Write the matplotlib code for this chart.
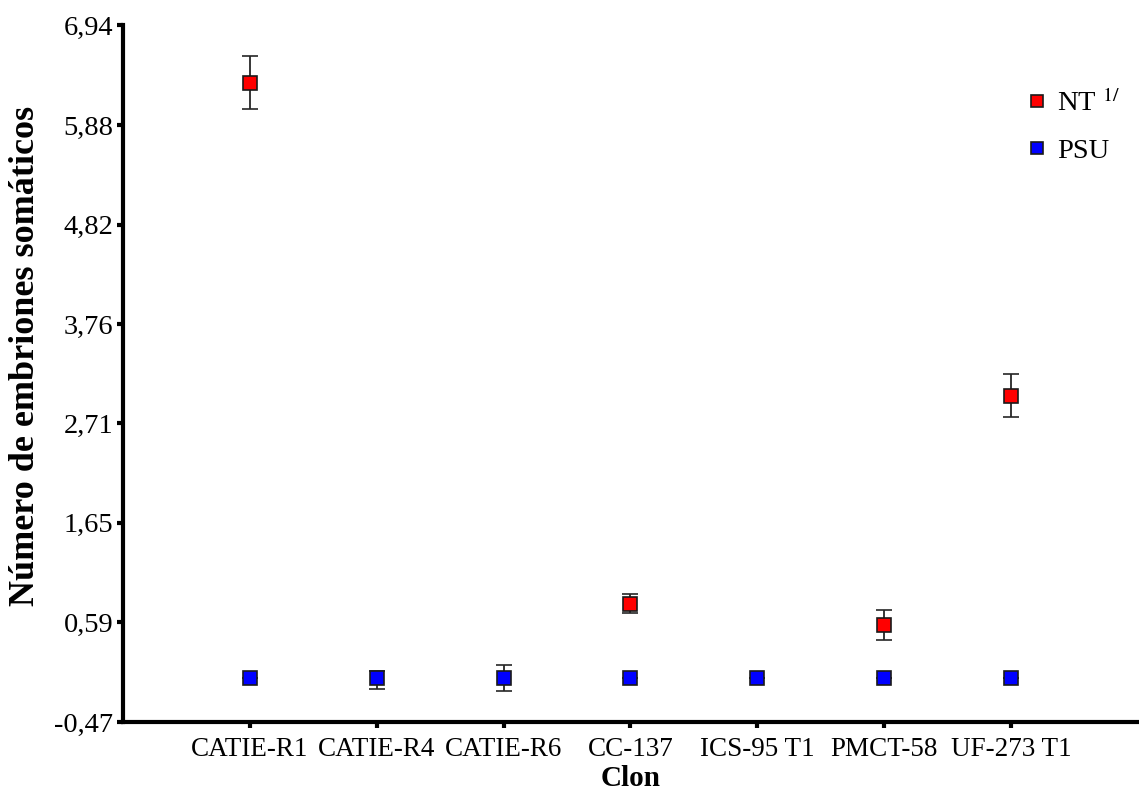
import numpy as np
import matplotlib.pyplot as plt
from matplotlib.lines import Line2D

# clones and mean number of somatic embryos (with standard errors)
clones = ['CATIE-R1', 'CATIE-R4', 'CATIE-R6', 'CC-137', 'ICS-95 T1', 'PMCT-58', 'UF-273 T1']
nt_mean = [6.33, None, None, 0.79, None, 0.56, 3.00]
nt_err = [0.28, None, None, 0.10, None, 0.16, 0.23]
psu_mean = [0.0, 0.0, 0.0, 0.0, 0.0, 0.0, 0.0]
psu_err_low = [0.0, 0.12, 0.14, 0.0, 0.0, 0.0, 0.0]
psu_err_high = [0.0, 0.07, 0.14, 0.0, 0.0, 0.0, 0.0]
yticks = [-0.47, 0.59, 1.65, 2.71, 3.76, 4.82, 5.88, 6.94]
ytick_labels = ['-0,47', '0,59', '1,65', '2,71', '3,76', '4,82', '5,88', '6,94']

plt.rcParams['font.family'] = ['Liberation Serif', 'DejaVu Serif']
plt.rcParams['mathtext.fontset'] = 'stix'

fig = plt.figure(figsize=(11.39, 7.93), dpi=100)
ax = fig.add_axes([0.108, 0.0895, 0.891, 0.8785])

x = np.arange(len(clones))
nt_idx = [i for i, v in enumerate(nt_mean) if v is not None]

ax.errorbar(x[nt_idx], [nt_mean[i] for i in nt_idx], yerr=[nt_err[i] for i in nt_idx],
            fmt='s', color='#ff0000', markersize=10, markeredgecolor='#1a1a1a',
            markeredgewidth=1.2, ecolor='#262626', elinewidth=1.3, capsize=5.5,
            capthick=1.3, zorder=3)
ax.errorbar(x, psu_mean, yerr=[psu_err_low, psu_err_high],
            fmt='s', color='#0000ff', markersize=10, markeredgecolor='#1a1a1a',
            markeredgewidth=1.2, ecolor='#262626', elinewidth=1.3, capsize=5.5,
            capthick=1.3, zorder=3)

ax.set_xlim(-1, 7)
ax.set_ylim(-0.47, 6.94)
ax.set_xticks(x)
ax.set_xticklabels(clones)
ax.set_yticks(yticks)
ax.set_yticklabels(ytick_labels)

for side in ['top', 'right']:
    ax.spines[side].set_visible(False)
for side in ['left', 'bottom']:
    ax.spines[side].set_linewidth(3)
ax.tick_params(axis='both', length=4, width=3, direction='out')
ax.tick_params(axis='x', labelsize=19.5, pad=7)
ax.tick_params(axis='y', labelsize=20.5, pad=3)

ax.set_xlabel('Clon', fontsize=21, fontweight='bold', labelpad=2)
ax.set_ylabel('Número de embriones somáticos', fontsize=26, fontweight='bold')
ax.yaxis.set_label_coords(-0.080, 0.525)

handles = [Line2D([], [], marker='s', linestyle='none', markersize=8.5, markerfacecolor='#ff0000',
                  markeredgecolor='#1a1a1a', markeredgewidth=1.2),
           Line2D([], [], marker='s', linestyle='none', markersize=8.5, markerfacecolor='#0000ff',
                  markeredgecolor='#1a1a1a', markeredgewidth=1.2)]
ax.legend(handles, [r'NT $^{\mathrm{1/}}$', 'PSU'], loc='upper right', bbox_to_anchor=(1.008, 0.945),
          frameon=False, fontsize=20.5, handletextpad=0.1, labelspacing=0.75, handlelength=1.2)

fig.savefig('out.png', dpi=100)
